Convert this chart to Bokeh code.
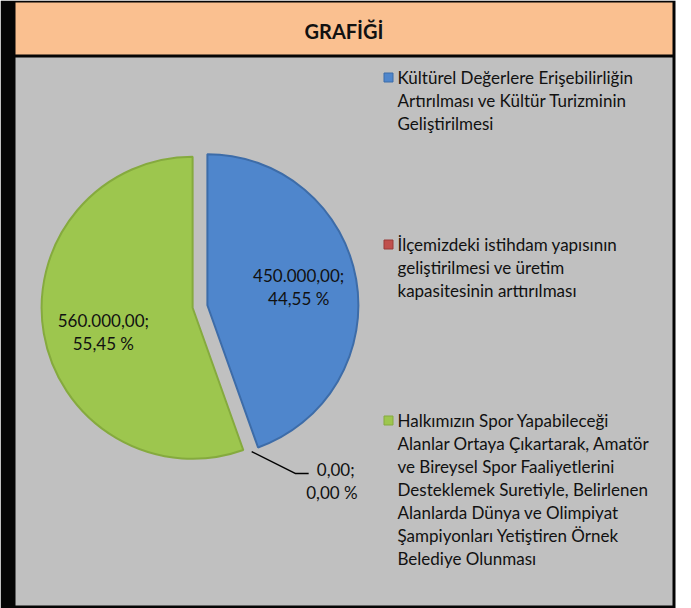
import math
from bokeh.plotting import figure
from bokeh.models import ColumnDataSource
from bokeh.core.properties import value
from bokeh.embed import file_html
from bokeh.resources import INLINE

# ---------------- data ----------------
title_text = "GRAFİĞİ"
categories = [
    "Kültürel Değerlere Erişebilirliğin\nArtırılması ve Kültür Turizminin\nGeliştirilmesi",
    "İlçemizdeki istihdam yapısının\ngeliştirilmesi ve üretim\nkapasitesinin arttırılması",
    "Halkımızın Spor Yapabileceği\nAlanlar Ortaya Çıkartarak, Amatör\nve Bireysel Spor Faaliyetlerini\nDesteklemek Suretiyle, Belirlenen\nAlanlarda Dünya ve Olimpiyat\nŞampiyonları Yetiştiren Örnek\nBelediye Olunması",
]
values = [450000.00, 0.00, 560000.00]
colors = ["#4f86cc", "#c0504d", "#9dc64e"]
edge_colors = ["#3d6ca8", "#9a3b39", "#85aa3e"]

W, H = 691, 608
FONT = "Lato"
FS = "17px"


def Y(py):
    return H - py


p = figure(width=W, height=H, x_range=(0, W), y_range=(0, H),
           output_backend="svg", toolbar_location=None, min_border=0)
p.axis.visible = False
p.grid.visible = False
p.outline_line_color = None
p.background_fill_color = "white"
p.border_fill_color = "white"

# frame
p.quad(left=[0], right=[675], top=[Y(0)], bottom=[Y(608)], fill_color="#050505", line_color=None)
p.quad(left=[15], right=[672], top=[Y(2)], bottom=[Y(54)], fill_color="#fac090", line_color=None)
p.quad(left=[15], right=[672], top=[Y(57)], bottom=[Y(605)], fill_color="#c0c0c0", line_color=None)

p.text(x=[343.5], y=[Y(30)], text=[title_text], text_font=value(FONT), text_font_style="bold",
       text_font_size="20px", text_align="center", text_baseline="middle", text_color="#111111")

# pie
total = sum(values)
cx, cy, r = 199.5, 306.0, 151.0
explode = 7.5
start_deg = 90.0
starts, ends, xs, ys, lab_x, lab_y, lab_text = [], [], [], [], [], [], []
cum = 0.0
for v in values:
    frac = v / total
    a0 = start_deg - cum * 360
    a1 = start_deg - (cum + frac) * 360
    mid = math.radians((a0 + a1) / 2)
    ox, oy = cx + explode * math.cos(mid), Y(cy) + explode * math.sin(mid)
    starts.append(math.radians(a0))
    ends.append(math.radians(a1))
    xs.append(ox)
    ys.append(oy)
    num = f"{v:,.2f}".replace(",", "X").replace(".", ",").replace("X", ".")
    pct = f"{frac*100:.2f}".replace(".", ",")
    lab_text.append(f"{num};\n{pct} %")
    lab_x.append(ox + 0.6 * r * math.cos(mid))
    lab_y.append(oy + 0.6 * r * math.sin(mid))
    cum += frac

keep = [i for i, v in enumerate(values) if v > 0]
src = ColumnDataSource(dict(x=[xs[i] for i in keep], y=[ys[i] for i in keep],
                            s=[starts[i] for i in keep], e=[ends[i] for i in keep],
                            c=[colors[i] for i in keep], lc=[edge_colors[i] for i in keep]))
p.wedge(x="x", y="y", radius=r, start_angle="s", end_angle="e", direction="clock",
        fill_color="c", line_color="lc", line_width=2, source=src)

for i, v in enumerate(values):
    lines = lab_text[i].split("\n")
    if v > 0:
        yy = lab_y[i] - (9 if i == 2 else -3)
        tx = lab_x[i] + (0 if i == 2 else 2)
        for k, ln in enumerate(lines):
            p.text(x=[tx], y=[yy - k * 23 + 11.5], text=[ln], text_font=value(FONT),
                   text_font_size=FS, text_align="center", text_baseline="middle",
                   text_color="#111111")
    else:
        ang = starts[i]
        sx = cx + (r + 3) * math.cos(ang)
        sy = Y(cy) + (r + 3) * math.sin(ang)
        ex, ey = sx + 44, sy - 22
        p.line(x=[sx, ex, ex + 13], y=[sy, ey, ey], line_color="black", line_width=1.5)
        p.text(x=[ex + 59], y=[ey + 4], text=[lines[0]], text_font=value(FONT),
               text_font_size=FS, text_align="right", text_baseline="middle", text_color="#111111")
        p.text(x=[ex + 62], y=[ey - 19], text=[lines[1]], text_font=value(FONT),
               text_font_size=FS, text_align="right", text_baseline="middle", text_color="#111111")

# legend
legend_first_y = [77, 244, 420]
line_step = 23
for i, cat in enumerate(categories):
    y0 = legend_first_y[i]
    p.scatter(x=[388], y=[Y(y0)], marker="square", size=9, fill_color=colors[i],
              line_color=edge_colors[i], line_width=1)
    for k, ln in enumerate(cat.split("\n")):
        p.text(x=[397], y=[Y(y0 + k * line_step)], text=[ln], text_font=value(FONT),
               text_font_size=FS, text_align="left", text_baseline="middle", text_color="#111111")

open("out.html", "w").write(file_html(p, INLINE))
